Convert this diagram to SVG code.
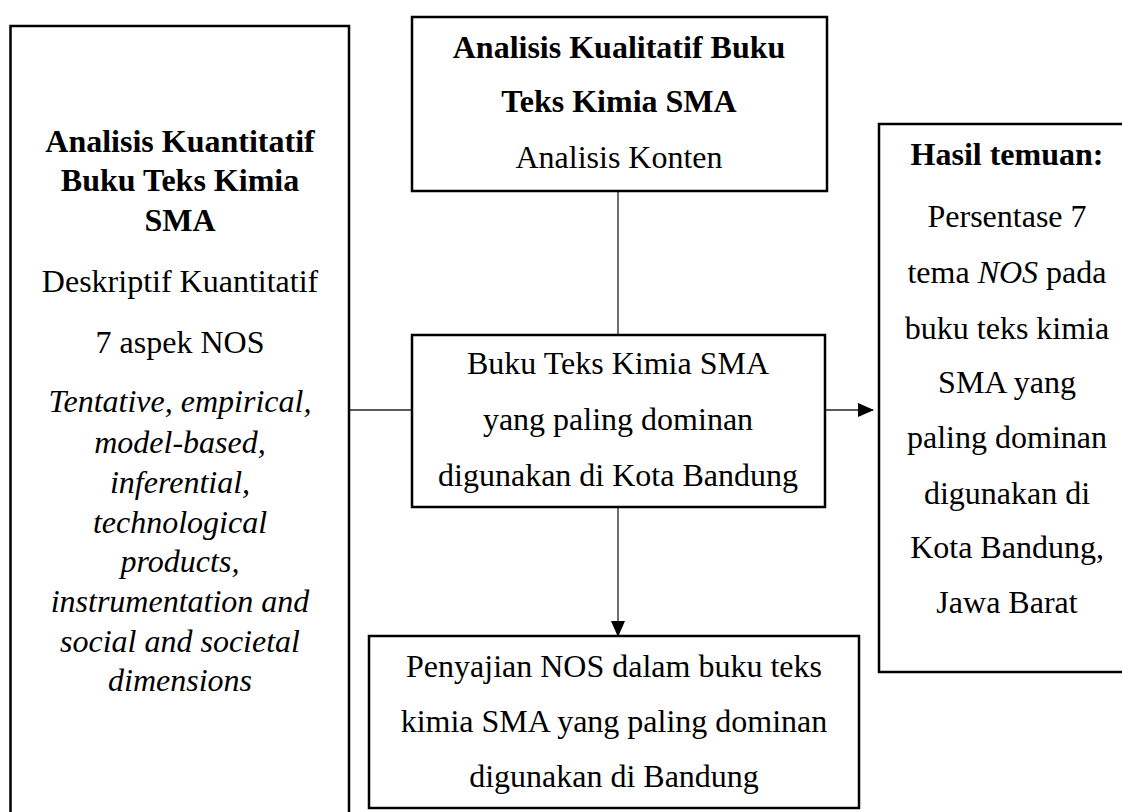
<svg xmlns="http://www.w3.org/2000/svg" width="1122" height="812" viewBox="0 0 1122 812">
<style>
.box{fill:#fff;stroke:#000;stroke-width:2.5}
.con{fill:none;stroke:#222;stroke-width:1.3}
text{font-family:"Liberation Serif","Times New Roman",serif;font-size:32px;fill:#000;text-anchor:middle}
.b{font-weight:bold}
.i{font-style:italic}
</style>
<defs>
<marker id="ah" markerWidth="16" markerHeight="14" refX="15" refY="7" orient="auto" markerUnits="userSpaceOnUse">
<path d="M0,0 L16,7 L0,14 Z" fill="#000"/>
</marker>
</defs>
<rect width="1122" height="812" fill="#fff"/>
<g id="connectors">
<line class="con" x1="618" y1="191" x2="618" y2="335"/>
<line class="con" x1="349" y1="410" x2="412" y2="410"/>
<line class="con" x1="825" y1="410" x2="873" y2="410" marker-end="url(#ah)"/>
<line class="con" x1="618" y1="507" x2="618" y2="636" marker-end="url(#ah)"/>
</g>
<g id="node-kuantitatif">
<rect class="box" x="10.5" y="26" width="338.5" height="800"/>
<text class="b" x="180" y="152">Analisis Kuantitatif</text>
<text class="b" x="180" y="191">Buku Teks Kimia</text>
<text class="b" x="180" y="231">SMA</text>
<text x="180" y="292">Deskriptif Kuantitatif</text>
<text x="180" y="353">7 aspek NOS</text>
<text class="i" x="180" y="412">Tentative, empirical,</text>
<text class="i" x="180" y="453">model-based,</text>
<text class="i" x="180" y="493">inferential,</text>
<text class="i" x="180" y="533">technological</text>
<text class="i" x="180" y="572">products,</text>
<text class="i" x="180" y="612">instrumentation and</text>
<text class="i" x="180" y="652">social and societal</text>
<text class="i" x="180" y="691">dimensions</text>
</g>
<g id="node-kualitatif">
<rect class="box" x="412" y="17" width="415" height="174"/>
<text class="b" x="619" y="58">Analisis Kualitatif Buku</text>
<text class="b" x="619" y="112">Teks Kimia SMA</text>
<text x="619" y="168">Analisis Konten</text>
</g>
<g id="node-buku">
<rect class="box" x="412" y="335" width="413" height="172"/>
<text x="618" y="374">Buku Teks Kimia SMA</text>
<text x="618" y="430">yang paling dominan</text>
<text x="618" y="486">digunakan di Kota Bandung</text>
</g>
<g id="node-penyajian">
<rect class="box" x="369" y="636" width="490" height="172"/>
<text x="614" y="677">Penyajian NOS dalam buku teks</text>
<text x="614" y="732">kimia SMA yang paling dominan</text>
<text x="614" y="787">digunakan di Bandung</text>
</g>
<g id="node-hasil">
<rect class="box" x="879" y="124" width="260" height="548"/>
<text class="b" x="1007" y="165">Hasil temuan:</text>
<text x="1007" y="227">Persentase 7</text>
<text x="1007" y="283">tema <tspan class="i">NOS</tspan> pada</text>
<text x="1007" y="339">buku teks kimia</text>
<text x="1007" y="393">SMA yang</text>
<text x="1007" y="448">paling dominan</text>
<text x="1007" y="504">digunakan di</text>
<text x="1007" y="558">Kota Bandung,</text>
<text x="1007" y="613">Jawa Barat</text>
</g>
</svg>
